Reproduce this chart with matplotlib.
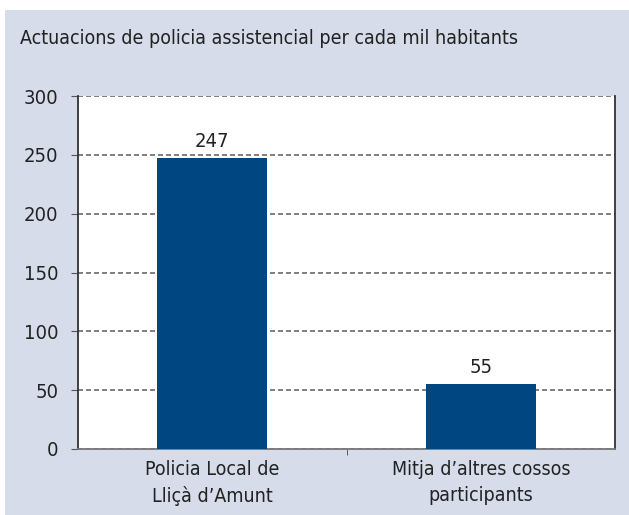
import matplotlib
matplotlib.use('Agg')
import matplotlib.pyplot as plt
from matplotlib.patches import Rectangle

categories = ['Policia Local de\nLliçà d\u2019Amunt', 'Mitja d\u2019altres cossos\nparticipants']
values = [247, 55]
yticks = [0, 50, 100, 150, 200, 250, 300]
title = 'Actuacions de policia assistencial per cada mil habitants'

plt.rcParams['font.family'] = ['DejaVu Sans']
plt.rcParams['font.stretch'] = 'condensed'

fig = plt.figure(figsize=(6.29, 5.15), dpi=100)
fig.patch.set_facecolor('white')
# light panel behind the chart
fig.patches.append(Rectangle((5 / 629, 0), 1, 1 - 10 / 515, transform=fig.transFigure,
                             facecolor='#d6dcea', edgecolor='none', zorder=-5))

ax = fig.add_axes([78 / 629, (515 - 449) / 515, (615 - 78) / 629, (449 - 96) / 515])
ax.set_zorder(2)
ax.set_facecolor('white')

x = range(len(categories))
ax.bar(x, values, width=0.41, color='#004680', zorder=3)
for xi, v in zip(x, values):
    ax.text(xi, v + 6, str(v), ha='center', va='bottom', fontsize=14.5, color='#222222')

ax.set_xlim(-0.5, 1.5)
ax.set_ylim(0, 300)
ax.set_yticks(yticks)
ax.set_yticklabels([str(t) for t in yticks], fontsize=14.5, color='#222222')
ax.set_xticks(list(x))
ax.set_xticklabels(categories, fontsize=14, color='#222222', linespacing=1.45)
ax.tick_params(axis='x', length=0, pad=8)
ax.tick_params(axis='y', length=5, color='#555555', pad=9)
ax.set_xticks([0.5], minor=True)
ax.tick_params(axis='x', which='minor', length=4, direction='out', color='#444444')

ax.yaxis.grid(True, linestyle=(0, (3, 1.8)), color='#6a6a6a', linewidth=1.2, zorder=1)
ax.set_axisbelow(True)

ax.spines['top'].set_visible(False)
ax.spines['left'].set_color('#333333')
ax.spines['right'].set_color('#333333')
ax.spines['bottom'].set_color('#777777')
for s in ['left', 'right', 'bottom']:
    ax.spines[s].set_linewidth(1.3)

fig.text(20 / 629, 1 - 38 / 515, title, fontsize=14, color='#222222', va='center', ha='left')

fig.savefig('out.png', dpi=100)
